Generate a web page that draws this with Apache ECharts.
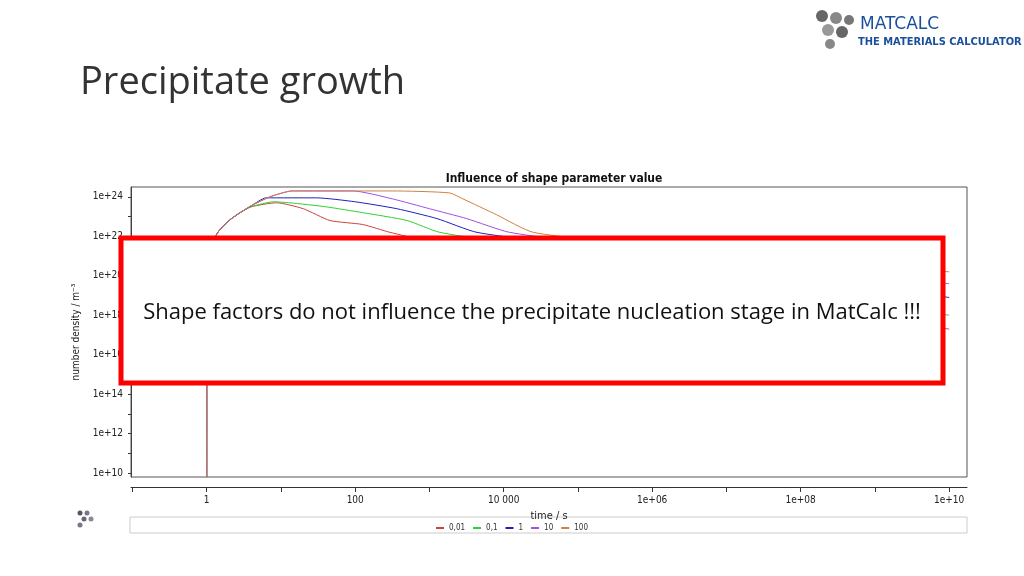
<!DOCTYPE html>
<html><head><meta charset="utf-8">
<script src="https://cdn.jsdelivr.net/npm/echarts@6/dist/echarts.min.js"></script>
<style>html,body{margin:0;background:#fff}#c{width:1024px;height:576px}</style>
</head><body><div id="c"></div>
<script>
// shape parameter values (legend)
const shapeNames = ["0,01", "0,1", "1", "10", "100"];
const colors = ["#d04040", "#30d030", "#2020c0", "#a050e0", "#d08040"];
// decade ticks on both axes
const xDecades = [-1, 0, 1, 2, 3, 4, 5, 6, 7, 8, 9, 10];
const yDecades = [10, 11, 12, 13, 14, 15, 16, 17, 18, 19, 20, 21, 22, 23, 24];
// log10(time / s) and log10(number density / m^-3) for each curve
const logT001 = [0, 0.002, 0.15, 0.3, 0.45, 0.6, 0.94, 1.3, 1.66, 2.1, 2.47, 3.5, 5, 6.5, 8, 10];
const logN001 = [9.8, 21, 22.2, 22.8, 23.2, 23.5, 23.7, 23.4, 22.8, 22.6, 22.2, 21.3, 20.3, 19.3, 18.2, 17.3];
const logT01 = [0, 0.002, 0.15, 0.3, 0.45, 0.6, 0.9, 1.12, 1.6, 2.1, 2.7, 3.14, 4.5, 6, 8, 10];
const logN01 = [9.8, 21, 22.2, 22.8, 23.2, 23.5, 23.75, 23.7, 23.5, 23.2, 22.8, 22.2, 21.4, 20.4, 19.1, 18.0];
const logT1 = [0, 0.002, 0.15, 0.3, 0.45, 0.6, 0.8, 1.48, 2.0, 2.56, 3.1, 3.64, 5, 6.5, 8, 10];
const logN1 = [9.8, 21, 22.2, 22.8, 23.2, 23.55, 23.95, 23.95, 23.75, 23.4, 22.9, 22.2, 21.5, 20.6, 19.8, 18.9];
const logT10 = [0, 0.002, 0.15, 0.3, 0.45, 0.6, 0.85, 1.15, 1.97, 2.5, 3.0, 3.5, 4.08, 5.5, 7.5, 10];
const logN10 = [9.8, 21, 22.2, 22.8, 23.2, 23.55, 24.0, 24.3, 24.3, 23.9, 23.4, 22.9, 22.2, 21.5, 20.6, 19.6];
const logT100 = [0, 0.002, 0.15, 0.3, 0.45, 0.6, 0.85, 1.15, 2.5, 3.27, 3.45, 3.9, 4.4, 6, 8, 10];
const logN100 = [9.8, 21, 22.2, 22.8, 23.2, 23.55, 24.0, 24.3, 24.3, 24.2, 23.9, 23.1, 22.2, 21.5, 20.9, 20.2];
const curvesT = [logT001, logT01, logT1, logT10, logT100];
const curvesN = [logN001, logN01, logN1, logN10, logN100];

const chart = echarts.init(document.getElementById('c'));
const fmtX = v => {
  const e = Math.round(v);
  if (e % 2 !== 0 || e < 0) return '';
  if (e === 0) return '1';
  if (e === 2) return '100';
  if (e === 4) return '10 000';
  return '1e+' + String(e).padStart(2, '0');
};
const fmtY = v => (Math.round(v) % 2 === 0 ? '1e+' + Math.round(v) : '');
const lbl = { fontFamily: 'DejaVu Sans Condensed', fontSize: 10, color: '#222' };
chart.setOption({
  animation: false,
  title: {
    text: 'Influence of shape parameter value', left: 549, top: 168, textAlign: 'center',
    textStyle: { fontFamily: 'DejaVu Sans Condensed', fontSize: 12, fontWeight: 'bold', color: '#111' }
  },
  legend: {
    data: shapeNames, top: 519, left: 'center', itemWidth: 8, itemHeight: 2, itemGap: 8,
    icon: 'rect', textStyle: { fontSize: 8, fontFamily: 'DejaVu Sans Condensed', color: '#333' }
  },
  grid: { left: 131, right: 57, top: 187, bottom: 99 },
  xAxis: {
    type: 'value', min: -1.02, max: 10.24,
    name: 'time / s', nameLocation: 'middle', nameGap: 24,
    nameTextStyle: { fontFamily: 'DejaVu Sans Condensed', fontSize: 11, color: '#222' },
    offset: 10,
    axisLine: { show: true, onZero: false, lineStyle: { color: '#333' } },
    axisTick: { show: true, length: 5, customValues: xDecades, lineStyle: { color: '#333' } },
    axisLabel: { formatter: fmtX, customValues: xDecades.filter(e => e >= 0 && e % 2 === 0), ...lbl },
    splitLine: { show: false }
  },
  yAxis: {
    type: 'value', min: 9.8, max: 24.5,
    name: 'number density / m⁻³', nameLocation: 'middle', nameGap: 50,
    nameTextStyle: { fontFamily: 'DejaVu Sans Condensed', fontSize: 10, color: '#222' },
    axisLine: { show: true, onZero: false, lineStyle: { color: '#333' } },
    axisTick: { show: true, length: 3, customValues: yDecades, lineStyle: { color: '#333' } },
    axisLabel: { formatter: fmtY, customValues: yDecades.filter(e => e % 2 === 0), ...lbl },
    splitLine: { show: false }
  },
  series: shapeNames.map((n, i) => ({
    name: n, type: 'line', showSymbol: false, smooth: 0.2,
    lineStyle: { width: 1, color: colors[i] }, itemStyle: { color: colors[i] },
    data: curvesT[i].map((t, k) => [t, curvesN[i][k]])
  })),
  graphic: [
    { type: 'rect', shape: { x: 131, y: 187, width: 836, height: 290 }, style: { fill: 'none', stroke: '#555', lineWidth: 1 }, z: 1 },
    { type: 'rect', shape: { x: 130, y: 517, width: 837, height: 16 }, style: { fill: '#fff', stroke: '#ccc', lineWidth: 1 }, z: -1 },
    { type: 'text', left: 80, top: 64, style: { text: 'Precipitate growth', fontFamily: 'Open Sans', fontSize: 38, fill: '#333' } },
    { type: 'rect', shape: { x: 121, y: 238, width: 822, height: 145 }, style: { fill: '#fff', stroke: '#f00', lineWidth: 5 }, z: 100 },
    { type: 'text', x: 532, y: 313, z: 101, style: { text: 'Shape factors do not influence the precipitate nucleation stage in MatCalc !!!', align: 'center', verticalAlign: 'middle', fontFamily: 'Open Sans', fontSize: 22, fill: '#111' } },
    { type: 'text', x: 860, y: 16, style: { text: 'MATCALC', fontFamily: 'DejaVu Sans', fontSize: 17, fill: '#1b4f9c' } },
    { type: 'text', x: 858, y: 37, style: { text: 'THE MATERIALS CALCULATOR', fontFamily: 'DejaVu Sans Condensed', fontSize: 11, fontWeight: 'bold', fill: '#1b4f9c' } },
    { type: 'circle', shape: { cx: 822, cy: 16, r: 6 }, style: { fill: '#666' } },
    { type: 'circle', shape: { cx: 836, cy: 18, r: 6 }, style: { fill: '#888' } },
    { type: 'circle', shape: { cx: 849, cy: 20, r: 5 }, style: { fill: '#777' } },
    { type: 'circle', shape: { cx: 828, cy: 30, r: 6 }, style: { fill: '#999' } },
    { type: 'circle', shape: { cx: 842, cy: 32, r: 6 }, style: { fill: '#666' } },
    { type: 'circle', shape: { cx: 830, cy: 44, r: 5 }, style: { fill: '#888' } },
    { type: 'circle', shape: { cx: 80, cy: 513, r: 2.5 }, style: { fill: '#556' } },
    { type: 'circle', shape: { cx: 87, cy: 513, r: 2.5 }, style: { fill: '#778' } },
    { type: 'circle', shape: { cx: 84, cy: 519, r: 2.5 }, style: { fill: '#667' } },
    { type: 'circle', shape: { cx: 91, cy: 519, r: 2.5 }, style: { fill: '#889' } },
    { type: 'circle', shape: { cx: 80, cy: 525, r: 2.5 }, style: { fill: '#778' } }
  ]
});
</script></body></html>
